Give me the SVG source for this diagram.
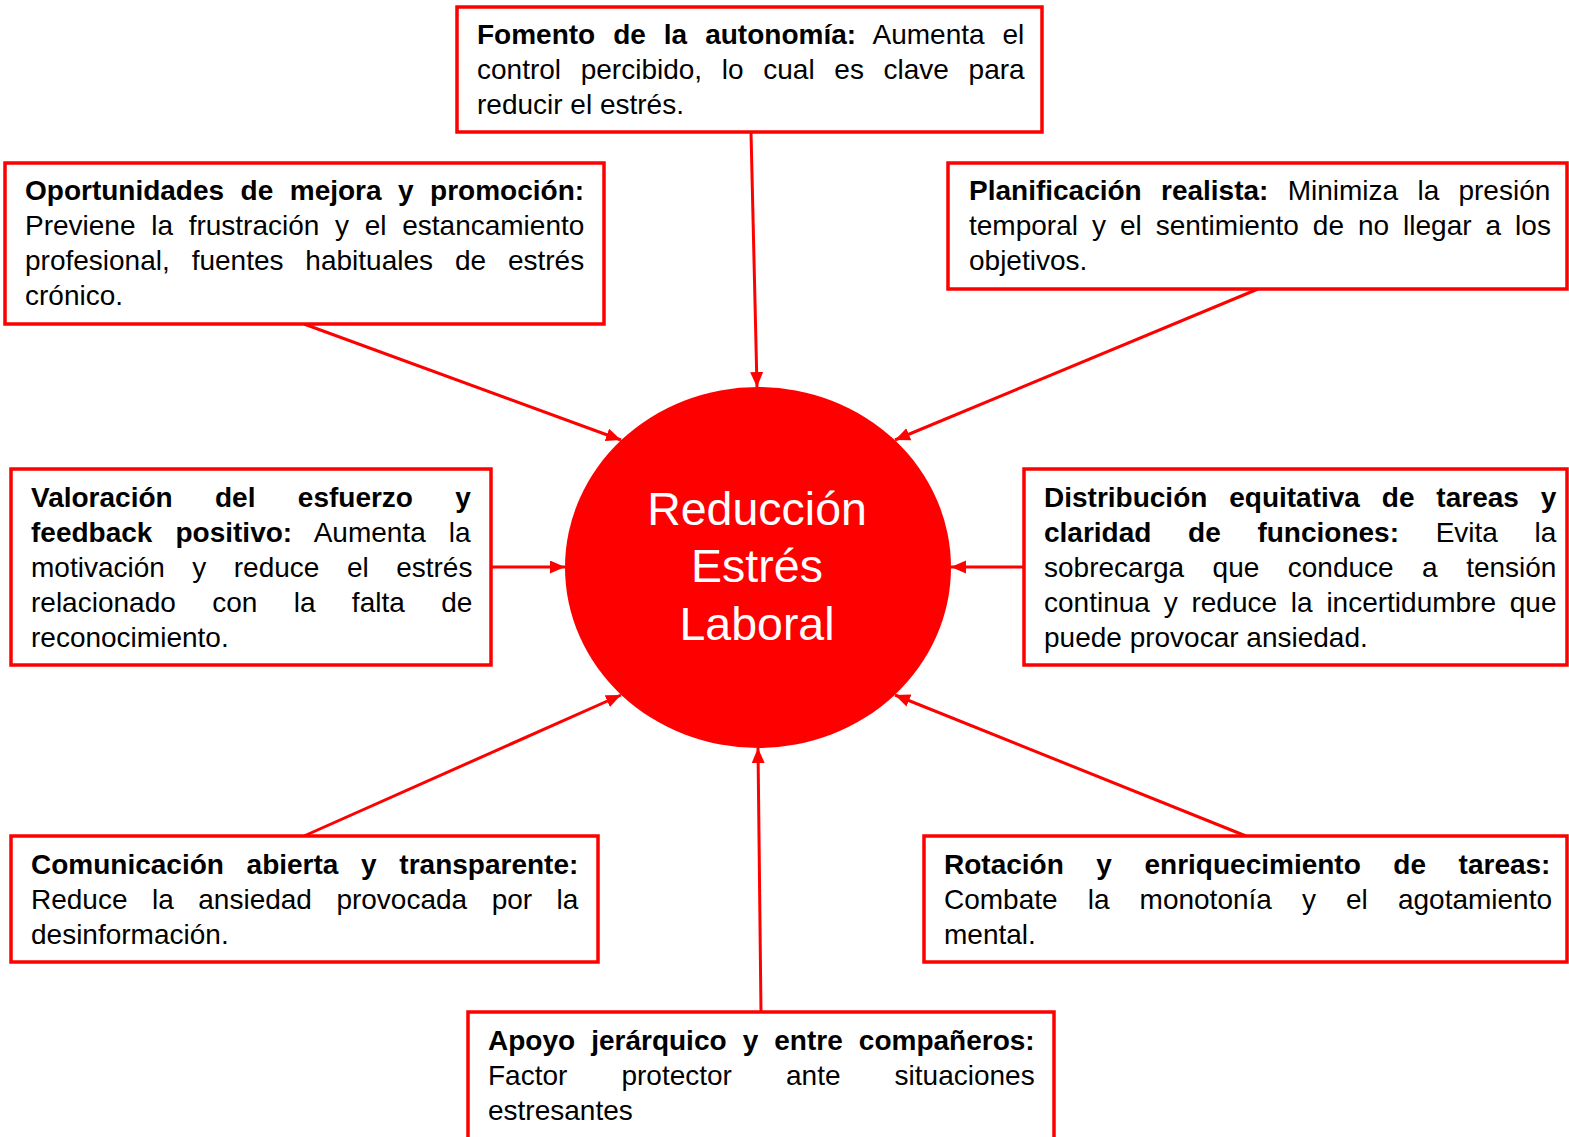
<svg xmlns="http://www.w3.org/2000/svg" width="1569" height="1137" viewBox="0 0 1569 1137">
<style>
.box{fill:#fff;stroke:#ff0000;stroke-width:3.5}
.t{font-family:"Liberation Sans",Arial,sans-serif;font-size:28px;fill:#000}
.b{font-weight:bold}
.conn{stroke:#ff0000;stroke-width:3;fill:none}
.ct{font-family:"Liberation Sans",Arial,sans-serif;font-size:46.5px;fill:#fff;text-anchor:middle}
</style>
<defs>
<marker id="ah" markerUnits="userSpaceOnUse" markerWidth="16" markerHeight="14" refX="15" refY="6.5" orient="auto">
<path d="M0,0 L15,6.5 L0,13 z" fill="#ff0000"/>
</marker>
</defs>
<rect width="1569" height="1137" fill="#fff"/>
<g id="connectors">
<line class="conn" x1="751" y1="132" x2="757" y2="387" marker-end="url(#ah)"/>
<line class="conn" x1="304" y1="324" x2="621" y2="440" marker-end="url(#ah)"/>
<line class="conn" x1="1258" y1="289" x2="895" y2="440" marker-end="url(#ah)"/>
<line class="conn" x1="491" y1="567" x2="565" y2="567" marker-end="url(#ah)"/>
<line class="conn" x1="1024" y1="567" x2="951" y2="567" marker-end="url(#ah)"/>
<line class="conn" x1="304" y1="836" x2="621" y2="695" marker-end="url(#ah)"/>
<line class="conn" x1="1246" y1="836" x2="895" y2="695" marker-end="url(#ah)"/>
<line class="conn" x1="761" y1="1012" x2="758" y2="748" marker-end="url(#ah)"/>
</g>
<g id="center">
<ellipse cx="758" cy="567.5" rx="193" ry="180.5" fill="#ff0000"/>
<text class="ct" x="757" y="525">Reducción</text>
<text class="ct" x="757" y="582">Estrés</text>
<text class="ct" x="757" y="640">Laboral</text>
</g>
<g id="n-autonomia">
<rect class="box" x="457" y="7" width="585" height="125"/>
<text class="t" x="477" y="44" word-spacing="10.2"><tspan class="b">Fomento de la autonomía:</tspan> Aumenta el</text>
<text class="t" x="477" y="79" word-spacing="11.9">control percibido, lo cual es clave para</text>
<text class="t" x="477" y="114">reducir el estrés.</text>
</g>
<g id="n-oportunidades">
<rect class="box" x="5" y="163" width="599" height="161"/>
<text class="t" x="25" y="200" word-spacing="8.7"><tspan class="b">Oportunidades de mejora y promoción:</tspan></text>
<text class="t" x="25" y="235" word-spacing="7.9">Previene la frustración y el estancamiento</text>
<text class="t" x="25" y="270" word-spacing="14.1">profesional, fuentes habituales de estrés</text>
<text class="t" x="25" y="305">crónico.</text>
</g>
<g id="n-planificacion">
<rect class="box" x="948" y="163" width="619" height="126"/>
<text class="t" x="969" y="200" word-spacing="11.5"><tspan class="b">Planificación realista:</tspan> Minimiza la presión</text>
<text class="t" x="969" y="235" word-spacing="6.2">temporal y el sentimiento de no llegar a los</text>
<text class="t" x="969" y="270">objetivos.</text>
</g>
<g id="n-valoracion">
<rect class="box" x="11" y="469" width="480" height="196"/>
<text class="t" x="31" y="507" word-spacing="34.6"><tspan class="b">Valoración del esfuerzo y</tspan></text>
<text class="t" x="31" y="542" word-spacing="15.3"><tspan class="b">feedback positivo:</tspan> Aumenta la</text>
<text class="t" x="31" y="577" word-spacing="19.7">motivación y reduce el estrés</text>
<text class="t" x="31" y="612" word-spacing="28.6">relacionado con la falta de</text>
<text class="t" x="31" y="647">reconocimiento.</text>
</g>
<g id="n-distribucion">
<rect class="box" x="1024" y="469" width="543" height="196"/>
<text class="t" x="1044" y="507" word-spacing="14.1"><tspan class="b">Distribución equitativa de tareas y</tspan></text>
<text class="t" x="1044" y="542" word-spacing="28.9"><tspan class="b">claridad de funciones:</tspan> Evita la</text>
<text class="t" x="1044" y="577" word-spacing="20.7">sobrecarga que conduce a tensión</text>
<text class="t" x="1044" y="612" word-spacing="6.0">continua y reduce la incertidumbre que</text>
<text class="t" x="1044" y="647">puede provocar ansiedad.</text>
</g>
<g id="n-comunicacion">
<rect class="box" x="11" y="836" width="587" height="126"/>
<text class="t" x="31" y="874" word-spacing="14.9"><tspan class="b">Comunicación abierta y transparente:</tspan></text>
<text class="t" x="31" y="909" word-spacing="16.7">Reduce la ansiedad provocada por la</text>
<text class="t" x="31" y="944">desinformación.</text>
</g>
<g id="n-rotacion">
<rect class="box" x="924" y="836" width="643" height="126"/>
<text class="t" x="944" y="874" word-spacing="24.8"><tspan class="b">Rotación y enriquecimiento de tareas:</tspan></text>
<text class="t" x="944" y="909" word-spacing="22.3">Combate la monotonía y el agotamiento</text>
<text class="t" x="944" y="944">mental.</text>
</g>
<g id="n-apoyo">
<rect class="box" x="468" y="1012" width="586" height="140"/>
<text class="t" x="488" y="1050" word-spacing="8.3"><tspan class="b">Apoyo jerárquico y entre compañeros:</tspan></text>
<text class="t" x="488" y="1085" word-spacing="46.3">Factor protector ante situaciones</text>
<text class="t" x="488" y="1120">estresantes</text>
</g>
</svg>
